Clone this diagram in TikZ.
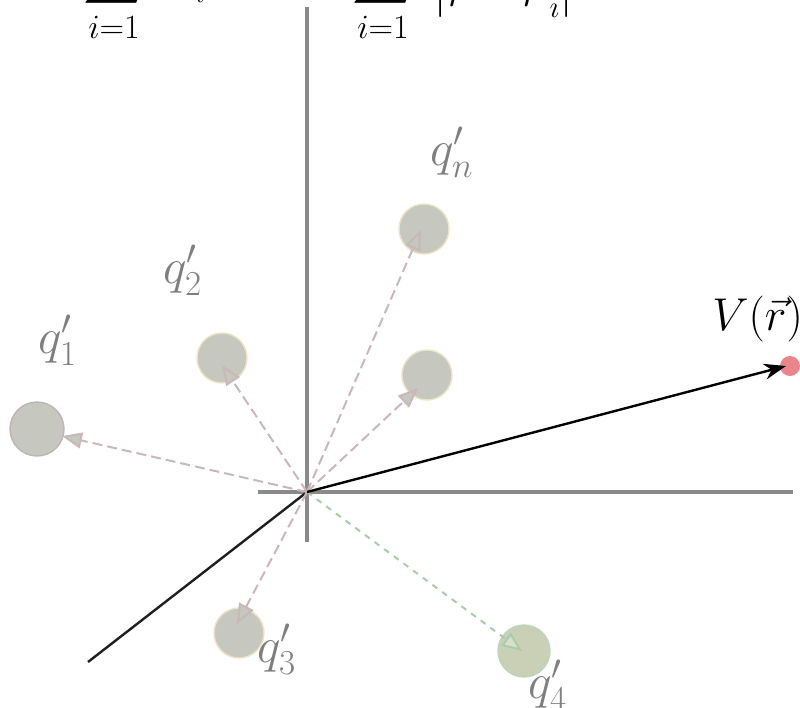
\RequirePackage{fix-cm}
\documentclass[tikz,border=0pt]{standalone}
\usepackage{graphicx}
\usetikzlibrary{arrows.meta}
\definecolor{axisgrey}{HTML}{8A8A8A}
\definecolor{qfill}{HTML}{C6C7BE}
\definecolor{qedgeA}{HTML}{BFB4B4}
\definecolor{qedgeY}{HTML}{ECE4C6}
\definecolor{qfourfill}{HTML}{CAD0B6}
\definecolor{qfouredge}{HTML}{BCD6BC}
\definecolor{dashpink}{HTML}{C9B7BA}
\definecolor{dashgreen}{HTML}{A9CCA9}
\definecolor{labelgrey}{HTML}{7F7F7F}
\definecolor{reddot}{HTML}{E9858B}
\begin{document}
\begin{tikzpicture}[x=0.5pt,y=-0.5pt,
  charge/.style={circle, fill=qfill, draw=qedgeY, line width=0.7pt, minimum size=25pt, inner sep=0pt},
  qlabel/.style={text=labelgrey, inner sep=0pt, anchor=base west, font=\fontsize{25}{30}\selectfont},
  formula/.style={inner sep=0pt, font=\fontsize{22}{26}\selectfont},
  limit/.style={inner sep=0pt, anchor=base, font=\fontsize{17}{20}\selectfont},
  bigsum/.style={inner sep=0pt, anchor=south},
  axis/.style={draw=axisgrey, line width=2pt},
  field/.style={draw=dashpink, line width=1pt, dash pattern=on 5pt off 2.5pt,
    -{Triangle[length=10pt,width=8pt,fill=qfill]}},
  fieldg/.style={draw=dashgreen, line width=1pt, dash pattern=on 3pt off 3pt,
    -{Triangle[length=10pt,width=8pt,fill=qfourfill!70!white]}}
]
\clip (0,0) rectangle (800,708);

% cut-off formula at the top
\node[bigsum] (s1) at (114,8) {\scalebox{2.1}{$\displaystyle\sum$}};
\node[limit] (s1l) at (114,38) {$i{=}1$};
\node[formula, anchor=south west] (vi) at (170,3) {$V_i$};
\node[bigsum] (s2) at (383,8) {\scalebox{2.1}{$\displaystyle\sum$}};
\node[limit] (s2l) at (383,38) {$i{=}1$};
\node[formula, anchor=south] (fr) at (504,18) {$\displaystyle\frac{k\,q'_i}{|\vec r-\vec r\,'_i|}$};

% axes
\coordinate (O) at (307,492);
\coordinate (ytop) at (307,7);
\coordinate (ybot) at (307,542);
\coordinate (xl) at (258,492);
\coordinate (xr) at (793,492);
\coordinate (zend) at (88,662);
\draw[axis] (ytop) -- (ybot);
\draw[axis] (xl) -- (xr);
\draw[black!88, line width=1.2pt] (O) -- (zend);

% charges
\node[charge, draw=qedgeA, minimum size=27pt] (q1) at (37,429) {};
\node[charge] (q2) at (222,358) {};
\node[charge] (qn) at (424,229) {};
\node[charge] (qm) at (427,375) {};
\node[charge] (q3) at (239,633) {};
\node[charge, fill=qfourfill, draw=qfouredge, minimum size=26pt] (q4) at (524,651) {};
\node[circle, fill=reddot, minimum size=10pt, inner sep=0pt] (P) at (790,366) {};

% arrow tips
\coordinate (t1) at (62,436);
\coordinate (t2) at (222,365);
\coordinate (tn) at (421,230);
\coordinate (tm) at (418,388);
\coordinate (t3) at (237,624);
\coordinate (t4) at (522,651);
\coordinate (tP) at (786,366);

\draw[field] (O) -- (t1);
\draw[field] (O) -- (t2);
\draw[field] (O) -- (tn);
\draw[field] (O) -- (tm);
\draw[field] (O) -- (t3);
\draw[fieldg] (O) -- (t4);
\draw[black, line width=1.2pt, -{Stealth[length=11pt,width=8pt]}] (O) -- (tP);

% labels
\node[qlabel] (l1) at (38,353) {$q'_1$};
\node[qlabel] (l2) at (163,283) {$q'_2$};
\node[qlabel] (ln) at (430,165) {$q'_n$};
\node[qlabel] (l3) at (257,662) {$q'_3$};
\node[qlabel] (l4) at (528,698) {$q'_4$};
\node[qlabel, text=black, font=\fontsize{23}{28}\selectfont] (lV) at (712,330) {$V(\vec r)$};
\end{tikzpicture}
\end{document}
